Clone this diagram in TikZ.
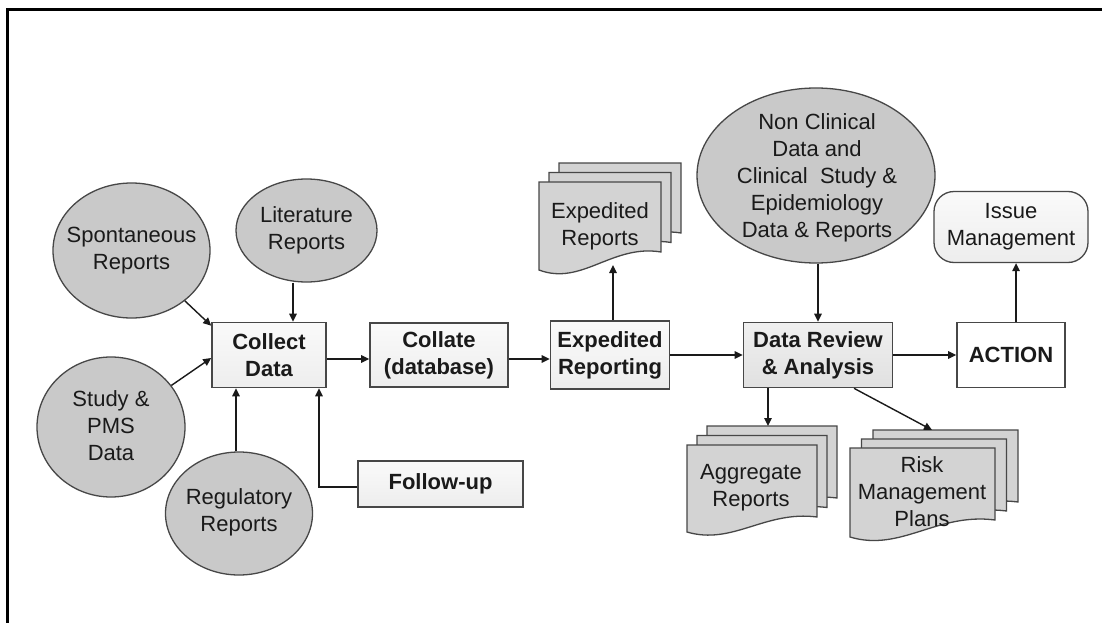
\documentclass[tikz,border=0pt]{standalone}
\usepackage{fontspec}
\setmainfont{Liberation Sans}
\usetikzlibrary{shapes.geometric,arrows.meta,calc}

\definecolor{edge}{HTML}{474747}
\definecolor{ink}{HTML}{1A1A1A}
\definecolor{srcfill}{HTML}{C9C9C9}
\definecolor{docfill}{HTML}{D3D3D3}

% one sheet of a document stack: x, y (top left), width, height, wave drop
\newcommand\docsheet[5]{%
  \filldraw[docpage] (#1,#2) -- ({#1+#3},#2) -- ({#1+#3},{#2+#4-#5})
    .. controls ({#1+0.6*#3},{#2+#4-1.45*#5}) and ({#1+0.35*#3},{#2+#4+0.9*#5})
    .. (#1,{#2+#4}) -- cycle;}
% three stacked sheets: x, y, width, height, wave drop, dx, dy
\newcommand\docstack[7]{%
  \docsheet{#1+2*#6}{#2-2*#7}{#3}{#4}{#5}
  \docsheet{#1+#6}{#2-#7}{#3}{#4}{#5}
  \docsheet{#1}{#2}{#3}{#4}{#5}}

\tikzset{
  src/.style={ellipse, draw=edge, line width=1.3pt, fill=srcfill, inner sep=0pt},
  srctext/.style={align=center, text=ink, inner sep=0pt,
    font=\fontsize{22}{27}\selectfont},
  stepbox/.style={rectangle, draw=edge, line width=1.6pt, align=center, text=ink,
    top color=gray!4, bottom color=gray!14, inner sep=2pt,
    font=\fontsize{22}{27}\bfseries\selectfont},
  docpage/.style={draw=edge, line width=1.3pt, fill=docfill},
  arr/.style={draw=ink, line width=1.4pt, -{Triangle[length=8pt,width=7.5pt]}},
}

\begin{document}
\begin{tikzpicture}[x=1pt, y=-1pt]
\useasboundingbox (0,0) rectangle (1102,623);
\fill[white] (0,0) rectangle (1102,623);

% frame
\draw[line width=3pt, black] (7,623) -- (7,10) -- (1102,10);

% data sources
\node[src, minimum width=157, minimum height=135] (spont) at (131.5,250.5) {};
\node[srctext] (spontT) at (spont) {Spontaneous\\Reports};
\node[src, minimum width=141, minimum height=103] (lit) at (306.5,230.5) {};
\node[srctext] (litT) at (lit) {Literature\\Reports};
\node[src, minimum width=148, minimum height=140] (study) at (111,427) {};
\node[srctext] (studyT) at (111,426) {Study \&\\PMS\\Data};
\node[src, minimum width=147, minimum height=123] (reg) at (239,513.5) {};
\node[srctext] (regT) at (239,512) {Regulatory\\Reports};
\node[src, minimum width=238, minimum height=175] (nc) at (816,175.5) {};
\node[srctext] (ncT) at (817,178)
  {Non Clinical\\Data and\\Clinical\ \ Study \&\\Epidemiology\\Data \& Reports};

% process steps
\node[stepbox, minimum width=114, minimum height=65] (collect) at (269,355) {Collect\\Data};
\node[stepbox, minimum width=138, minimum height=64] (collate) at (439,355) {Collate\\(database)};
\node[stepbox, minimum width=119, minimum height=68] (exrep) at (610,355) {Expedited\\Reporting};
\node[stepbox, minimum width=149, minimum height=65, top color=gray!12, bottom color=gray!24]
  (dr) at (818,355) {Data Review\\\& Analysis};
\node[stepbox, minimum width=108, minimum height=65, top color=white, bottom color=white]
  (action) at (1011,355) {ACTION};
\node[stepbox, minimum width=165, minimum height=46] (follow) at (440.5,484) {Follow-up};
\node[stepbox, minimum width=154, minimum height=71, rounded corners=20pt,
  line width=1.3pt, font=\fontsize{22}{27}\selectfont]
  (issue) at (1011,227) {Issue\\Management};

% document stacks
\docstack{539}{182}{122}{88}{18}{10}{9.5}
\node[srctext] (erT) at (600,226) {Expedited\\Reports};
\coordinate (erbot) at (610,265);

\docstack{687}{445}{130}{87}{15}{10}{9.5}
\node[srctext] (aggT) at (751,488) {Aggregate\\Reports};
\coordinate (aggtop) at (768,426);

\docstack{850}{448}{145}{89}{17}{11.5}{9}
\node[srctext] (riskT) at (922,492) {Risk\\Management\\Plans};
\coordinate (risktop) at (932,430);

% connectors
\draw[arr] (spont) -- ([yshift=-4pt]collect.north west);
\draw[arr] (study) -- ([yshift=-3pt]collect.west);
\draw[arr] ([xshift=-13.5pt]lit.south) -- ([xshift=24pt]collect.north);
\draw[arr] ([xshift=-3pt]reg.north) -- ([xshift=-3pt]reg.north |- collect.south);
\draw[arr] ([yshift=-3pt]follow.west) -| ([xshift=50pt]collect.south);
\draw[arr] ([yshift=-4pt]collect.east) -- ([yshift=-4pt]collate.west);
\draw[arr] ([yshift=-4pt]collate.east) -- ([yshift=-4pt]exrep.west);
\draw[arr] ([xshift=3pt]exrep.north) -- ([xshift=3pt]exrep.north |- erbot);
\draw[arr] (exrep) -- (dr);
\draw[arr] (nc.south -| dr.north) -- (dr.north);
\draw[arr] (dr) -- (action);
\draw[arr] ([xshift=5pt]action.north) -- ([xshift=5pt]issue.south);
\draw[arr] ([xshift=-50pt]dr.south) -- (aggtop);
\draw[arr] ([xshift=36pt]dr.south) -- (risktop);
\end{tikzpicture}
\end{document}
